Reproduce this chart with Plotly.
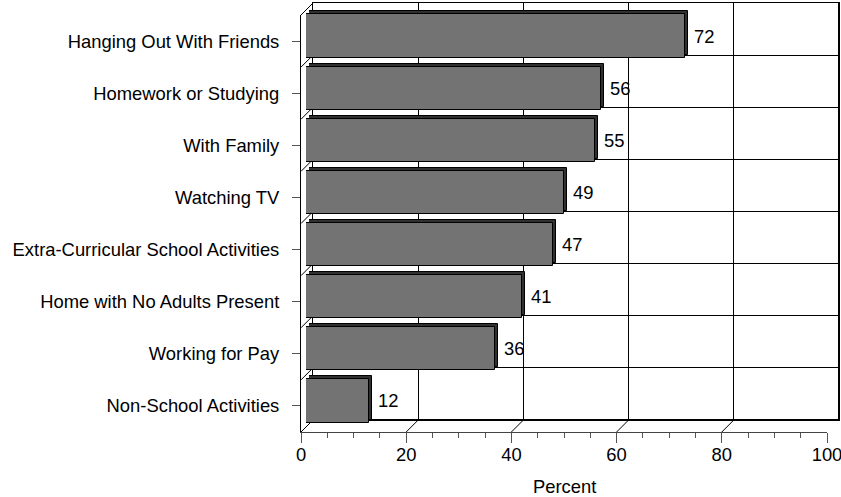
import plotly.graph_objects as go

# Survey results: share of respondents (%) by after-school activity
categories = [
    "Hanging Out With Friends",
    "Homework or Studying",
    "With Family",
    "Watching TV",
    "Extra-Curricular School Activities",
    "Home with No Adults Present",
    "Working for Pay",
    "Non-School Activities",
]
percent = [72, 56, 55, 49, 47, 41, 36, 12]
x_ticks = [0, 20, 40, 60, 80, 100]

W, H = 841, 497
FONT = dict(family="Liberation Sans, Arial, sans-serif", size=18.4, color="black")


def xdom(px0, px1):
    return [px0 / W, px1 / W]


def ydom(py_top, py_bottom):
    return [(H - py_bottom) / H, (H - py_top) / H]


# Pseudo-3D frames: front plane (axes), bar body (two layers), back wall
DEPTH = 12          # wall depth in px
BAR_OFF = 5         # bar front face depth offset
BAR_DEPTH = 3       # bar thickness in depth
front_x = (301, 827)
front_y = (15, 432)
n = len(categories)

cat_order = list(reversed(categories))
cat_axis = dict(type="category", categoryorder="array", categoryarray=cat_order,
                range=[-0.5, n - 0.5])

fig = go.Figure()

# carrier for the back wall frame
fig.add_trace(go.Scatter(
    x=[0, 100], y=[0, n], mode="markers", marker=dict(opacity=0),
    xaxis="x", yaxis="y", hoverinfo="skip", showlegend=False,
))
# carrier for the front axes (ticks and labels)
fig.add_trace(go.Scatter(
    x=percent, y=categories, mode="markers", marker=dict(opacity=0),
    xaxis="x2", yaxis="y2", hoverinfo="skip", showlegend=False,
))
# back-face of the bars (dark), drawn first
fig.add_trace(go.Bar(
    x=percent, y=categories, orientation="h", width=0.83,
    marker=dict(color="#303030", line=dict(color="black", width=1)),
    xaxis="x3", yaxis="y3", hoverinfo="skip", showlegend=False,
))
# front face of the bars
fig.add_trace(go.Bar(
    x=percent, y=categories, orientation="h", width=0.83,
    marker=dict(color="#737373", line=dict(color="black", width=1)),
    xaxis="x4", yaxis="y4", hoverinfo="skip", showlegend=False,
))

shapes = []
# floor gridlines running back from each major tick
for v in x_ticks:
    shapes.append(dict(type="line", layer="below",
                       xref="x2", xsizemode="pixel", xanchor=v, x0=0, x1=DEPTH,
                       yref="y2 domain", ysizemode="pixel", yanchor=0, y0=0, y1=DEPTH,
                       line=dict(color="black", width=1)))
# left wall lines at category boundaries
for k in range(n + 1):
    shapes.append(dict(type="line", layer="below",
                       xref="x2 domain", xsizemode="pixel", xanchor=0, x0=0, x1=DEPTH,
                       yref="y2 domain", ysizemode="pixel", yanchor=k / n, y0=0, y1=DEPTH,
                       line=dict(color="black", width=1)))
# heavy back edge of the floor
shapes.append(dict(type="line", layer="below", xref="x domain", yref="y domain",
                   x0=0, x1=1, y0=0, y1=0, line=dict(color="black", width=2)))
# right edge of the back wall
shapes.append(dict(type="line", layer="below", xref="x domain", yref="y domain",
                   x0=1, x1=1, y0=0, y1=1, line=dict(color="black", width=2)))

annotations = [
    dict(x=v, y=c, xref="x4", yref="y4", text=str(v), showarrow=False,
         xanchor="left", yanchor="middle", xshift=7, font=FONT)
    for c, v in zip(categories, percent)
]
# axis title
annotations.append(dict(x=0.5, y=0, xref="x2 domain", yref="y2 domain",
                        text="Percent", showarrow=False, xanchor="center",
                        yanchor="top", yshift=-42, font=FONT))

hidden = dict(showticklabels=False, ticks="", showgrid=False, zeroline=False,
              fixedrange=True, automargin=False)

fig.update_layout(
    width=W, height=H, margin=dict(l=0, r=0, t=0, b=0, autoexpand=False),
    paper_bgcolor="white", plot_bgcolor="rgba(0,0,0,0)",
    font=FONT, bargap=0, showlegend=False,
    # back wall
    xaxis=dict(domain=xdom(front_x[0] + DEPTH, front_x[1] + DEPTH), range=[0, 100],
               dtick=20, showgrid=True, gridcolor="black", gridwidth=1,
               showline=True, linecolor="black", linewidth=1, mirror=True,
               showticklabels=False, ticks="", zeroline=False, anchor="y",
               automargin=False),
    yaxis=dict(domain=ydom(front_y[0] - DEPTH, front_y[1] - DEPTH), range=[0, n],
               dtick=1, showgrid=True, gridcolor="black", gridwidth=1,
               showline=True, linecolor="black", linewidth=1, mirror=True,
               showticklabels=False, ticks="", zeroline=False, anchor="x",
               automargin=False),
    # front plane with ticks and labels
    xaxis2=dict(domain=xdom(*front_x), range=[0, 100], anchor="y2",
                tickvals=x_ticks, ticks="outside", ticklen=10, tickcolor="#555",
                minor=dict(dtick=5, ticks="outside", ticklen=5, tickcolor="#555",
                           showgrid=False),
                showgrid=False, zeroline=False, showline=True, linecolor="#444",
                linewidth=1, tickfont=FONT, ticklabeloverflow="allow",
                ticklabelstandoff=-4, automargin=False),
    yaxis2=dict(domain=ydom(*front_y), anchor="x2",
                ticks="outside", ticklen=8, tickcolor="#555", showgrid=False,
                showline=True, linecolor="black", linewidth=1, tickfont=FONT,
                ticklabelstandoff=9, automargin=False, **cat_axis),
    # bar depth layer
    xaxis3=dict(domain=xdom(front_x[0] + BAR_OFF + BAR_DEPTH, front_x[1] + BAR_OFF + BAR_DEPTH),
                range=[0, 100], anchor="y3", **hidden),
    yaxis3=dict(domain=ydom(front_y[0] - BAR_OFF - BAR_DEPTH, front_y[1] - BAR_OFF - BAR_DEPTH),
                anchor="x3", **hidden, **cat_axis),
    # bar front layer
    xaxis4=dict(domain=xdom(front_x[0] + BAR_OFF, front_x[1] + BAR_OFF),
                range=[0, 100], anchor="y4", **hidden),
    yaxis4=dict(domain=ydom(front_y[0] - BAR_OFF, front_y[1] - BAR_OFF),
                anchor="x4", **hidden, **cat_axis),
    shapes=shapes,
    annotations=annotations,
)

fig.write_html("out.html")
